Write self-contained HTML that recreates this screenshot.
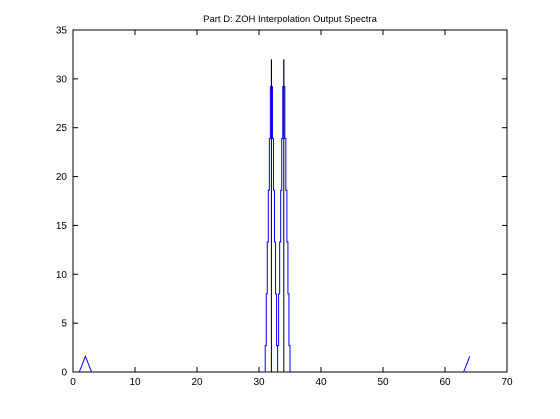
<!DOCTYPE html>
<html><head><meta charset="utf-8"><style>
body{margin:0;background:#fff}
svg{display:block;font-family:"Liberation Sans",sans-serif;font-size:10px}
</style></head><body>
<svg width="560" height="419">
<script>
const xTicks=[0,10,20,30,40,50,60,70];
const yTicks=[0,5,10,15,20,25,30,35];
const levels=[2.7,8,13.3,18.6,23.9,29.2];
const peakValue=32;
const peakCenters=[32,34];
const bumpX=[1,2,3,63,64];
const bumpY=[0,1.6,0,0,1.6];
</script>
<rect x="73" y="30" width="434" height="342" fill="#fff" stroke="#000"/>
<g id="ax"></g>
<text x="290" y="22" text-anchor="middle" font-size="9.5">Part D: ZOH Interpolation Output Spectra</text>
<script>
const NS="http://www.w3.org/2000/svg";
const sx=v=>73+v*434/70, sy=v=>372-v*342/35;
const g=document.getElementById('ax');
function el(t,a){const e=document.createElementNS(NS,t);for(const k in a)e.setAttribute(k,a[k]);g.appendChild(e);return e;}
xTicks.forEach(t=>{
 const l=el('line',{x1:sx(t),x2:sx(t),y1:372,y2:367,stroke:'#000'});
 
 
 const l2=el('line',{x1:sx(t),x2:sx(t),y1:30,y2:35,stroke:'#000'});
 
 
 const tx=el('text',{x:sx(t),y:385,'text-anchor':'middle'});tx.textContent=t;
 
 
});
yTicks.forEach(t=>{
 const l=el('line',{x1:73,x2:78,y1:sy(t),y2:sy(t),stroke:'#000'});
 
 
 const l2=el('line',{x1:507,x2:502,y1:sy(t),y2:sy(t),stroke:'#000'});
 
 
 const tx=el('text',{x:67,y:sy(t)+3.5,'text-anchor':'end'});tx.textContent=t;
 
 
});
let pts=[];
const step=1/6;
peakCenters.forEach(c=>{
 let x=c-1;
 pts.push([x,0]);
 levels.forEach((v,i)=>{pts.push([x+i*step,v]);pts.push([x+(i+1)*step,v]);});
 pts.push([c,peakValue]);
 const rev=levels.slice().reverse();
 rev.forEach((v,i)=>{pts.push([c+i*step,v]);pts.push([c+(i+1)*step,v]);});
 pts.push([c+1,0]);
});
const p=el('polyline',{points:pts.map(q=>sx(q[0])+','+sy(q[1])).join(' '),fill:'none',stroke:'#0000ff','stroke-width':1});


peakCenters.forEach(c=>{
 const b=el('line',{x1:sx(c),x2:sx(c),y1:sy(0),y2:sy(peakValue),stroke:'#000','stroke-width':1});
 
 
});
const b1=el('polyline',{points:[0,1,2].map(i=>sx(bumpX[i])+','+sy(bumpY[i])).join(' '),fill:'none',stroke:'#0000ff'});


const b2=el('polyline',{points:[3,4].map(i=>sx(bumpX[i])+','+sy(bumpY[i])).join(' '),fill:'none',stroke:'#0000ff'});


</script>
</svg>
</body></html>
